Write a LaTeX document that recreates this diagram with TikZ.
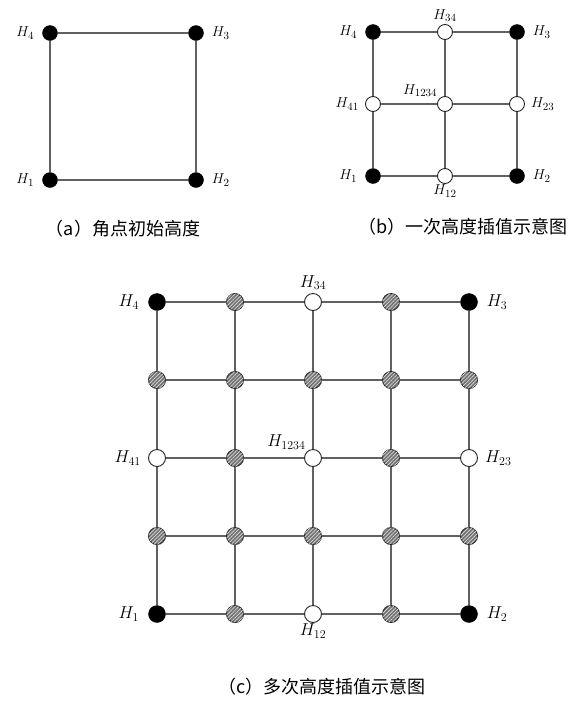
\documentclass[tikz,border=0pt]{standalone}
\usepackage{fontspec}
\newfontfamily\cjk{Noto Sans CJK SC}
\usetikzlibrary{positioning,patterns.meta}

\begin{document}
\begin{tikzpicture}[x=1pt,y=-1pt,
    gridline/.style={draw=black!62, line width=1.3pt},
    dot2/.style={circle, draw=black, fill=black, inner sep=0pt, minimum size=15pt},
    dot1/.style={circle, draw=black!85, fill=white, line width=0.9pt, inner sep=0pt, minimum size=15pt},
    dot0/.style={circle, draw=black!85, fill=black!55, line width=0.9pt, inner sep=0pt, minimum size=17pt,
        postaction={pattern={Lines[angle=45,distance=2.6pt,line width=0.7pt]}, pattern color=white!85!black}},
    big/.style={minimum size=17pt},
    lab/.style={font=\fontsize{15}{15}\selectfont, inner sep=1pt},
    labc/.style={font=\fontsize{17}{17}\selectfont, inner sep=1pt},
    caption/.style={font=\cjk\fontsize{18}{18}\selectfont}]
\useasboundingbox (0,0) rectangle (584,702);

% (a) corner heights
\node[dot2] (a1) at (50,180) {};
\node[dot2] (a2) at (196,180) {};
\node[dot2] (a3) at (196,33) {};
\node[dot2] (a4) at (50,33) {};
\draw[gridline] (a1) -- (a2) (a2) -- (a3) (a3) -- (a4) (a4) -- (a1);
\node[lab, left=7pt of a4] {$H_4$};
\node[lab, right=7pt of a3] {$H_3$};
\node[lab, left=7pt of a1] {$H_1$};
\node[lab, right=7pt of a2] {$H_2$};
\node[caption] (capa) at (123,229) {（a）角点初始高度};

% (b) one interpolation step
\foreach \i in {0,1,2}
  \foreach \j in {0,1,2} {
    \pgfmathtruncatemacro\kind{(\i!=1 && \j!=1) ? 2 : 1}
    \node[dot\kind] (b\i\j) at (373+72*\i, 176-72*\j) {};
  }
\foreach \i in {0,1,2}
  \foreach \j/\k in {0/1,1/2} {
    \draw[gridline] (b\i\j) -- (b\i\k);
    \draw[gridline] (b\j\i) -- (b\k\i);
  }
\node[lab, left=7pt of b02] {$H_4$};
\node[lab, right=7pt of b22] {$H_3$};
\node[lab, above=1pt of b12] {$H_{34}$};
\node[lab, left=5pt of b01] {$H_{41}$};
\node[lab, above left=1pt and 1pt of b11] {$H_{1234}$};
\node[lab, right=5pt of b21] {$H_{23}$};
\node[lab, left=7pt of b00] {$H_1$};
\node[lab, right=7pt of b20] {$H_2$};
\node[lab, below=0pt of b10] {$H_{12}$};
\node[caption] (capb) at (463,227) {（b）一次高度插值示意图};

% (c) repeated interpolation
\foreach \i in {0,...,4}
  \foreach \j in {0,...,4} {
    \pgfmathtruncatemacro\kind{(mod(\i,2)==0 && mod(\j,2)==0) ? ((\i!=2 && \j!=2) ? 2 : 1) : 0}
    \node[dot\kind, big] (c\i\j) at (157+78*\i, 614-78*\j) {};
  }
\foreach \i in {0,...,4}
  \foreach \j/\k in {0/1,1/2,2/3,3/4} {
    \draw[gridline] (c\i\j) -- (c\i\k);
    \draw[gridline] (c\j\i) -- (c\k\i);
  }
\node[labc, left=8pt of c04] {$H_4$};
\node[labc, right=8pt of c44] {$H_3$};
\node[labc, above=2pt of c24] {$H_{34}$};
\node[labc, left=6pt of c02] {$H_{41}$};
\node[labc, above left=1pt and 0pt of c22] {$H_{1234}$};
\node[labc, right=6pt of c42] {$H_{23}$};
\node[labc, left=8pt of c00] {$H_1$};
\node[labc, right=8pt of c40] {$H_2$};
\node[labc, below=0pt of c20] {$H_{12}$};
\node[caption] (capc) at (322,687) {（c）多次高度插值示意图};
\end{tikzpicture}
\end{document}
